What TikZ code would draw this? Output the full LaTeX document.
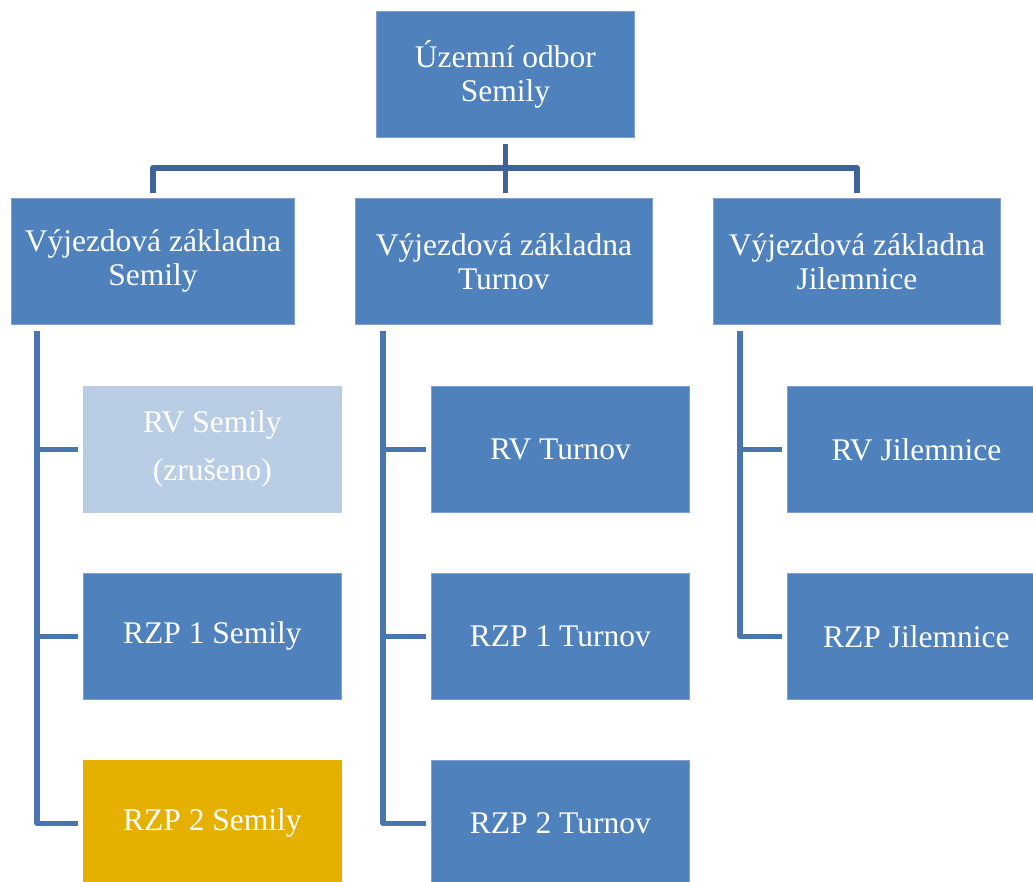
\documentclass[tikz,border=0pt]{standalone}
\usepackage{fontspec}
\setmainfont{Liberation Serif}
\definecolor{boxblue}{HTML}{4F81BD}
\definecolor{boxedge}{HTML}{7FA1CF}
\definecolor{lightblue}{HTML}{B9CDE5}
\definecolor{gold}{HTML}{E5B000}
\definecolor{busline}{HTML}{3F6497}
\definecolor{childline}{HTML}{4A76B0}
\begin{document}
\begin{tikzpicture}[x=1pt,y=-1pt,
  box/.style={draw=boxedge, line width=0.8pt, fill=boxblue, text=white,
    minimum width=258pt, minimum height=126pt, inner sep=0pt, align=center,
    font=\fontsize{31.5}{34}\selectfont, anchor=north west},
  bus/.style={draw=busline, line width=5.5pt},
  childln/.style={draw=childline, line width=5.5pt}]
\useasboundingbox (0,0) rectangle (1033,882);
\clip (0,0) rectangle (1033,882);
% top
\node[box] (top) at (376,11) {Územní odbor\\Semily};
% row 2
\node[box, minimum width=283pt] (A) at (11,198) {Výjezdová základna\\Semily};
\node[box, minimum width=297pt] (B) at (355,198) {Výjezdová základna\\Turnov};
\node[box, minimum width=287pt] (C) at (713,198) {Výjezdová základna\\Jilemnice};
% children column 1
\node[box, fill=lightblue, draw=lightblue] (a1) at (83,386) {RV Semily\\[14pt](zrušeno)};
\node[box] (a2) at (83,573) {RZP 1 Semily};
\node[box, fill=gold, draw=gold] (a3) at (83,760) {RZP 2 Semily};
% children column 2
\node[box] (b1) at (431,386) {RV Turnov};
\node[box] (b2) at (431,573) {RZP 1 Turnov};
\node[box] (b3) at (431,760) {RZP 2 Turnov};
% children column 3
\node[box] (c1) at (787,386) {RV Jilemnice};
\node[box] (c2) at (787,573) {RZP Jilemnice};
% bus connectors
\coordinate (busy) at (505,168);
\draw[bus] ([yshift=-6pt]top.south) -- ([yshift=5pt]top.south |- B.north);
\draw[bus, line join=round] ([yshift=5pt]A.north) -- (A.north |- busy) -- (C.north |- busy) -- ([yshift=5pt]C.north);
% child connectors
\coordinate (va) at (37,0);
\coordinate (vb) at (383,0);
\coordinate (vc) at (740,0);
\draw[childln, line join=round] ([yshift=-6pt]A.south -| va) -- (a3.west -| va) -- ([xshift=-5pt]a3.west);
\draw[childln] (a1.west -| va) -- ([xshift=-5pt]a1.west);
\draw[childln] (a2.west -| va) -- ([xshift=-5pt]a2.west);
\draw[childln, line join=round] ([yshift=-6pt]B.south -| vb) -- (b3.west -| vb) -- ([xshift=-5pt]b3.west);
\draw[childln] (b1.west -| vb) -- ([xshift=-5pt]b1.west);
\draw[childln] (b2.west -| vb) -- ([xshift=-5pt]b2.west);
\draw[childln, line join=round] ([yshift=-6pt]C.south -| vc) -- (c2.west -| vc) -- ([xshift=-5pt]c2.west);
\draw[childln] (c1.west -| vc) -- ([xshift=-5pt]c1.west);
\end{tikzpicture}
\end{document}
